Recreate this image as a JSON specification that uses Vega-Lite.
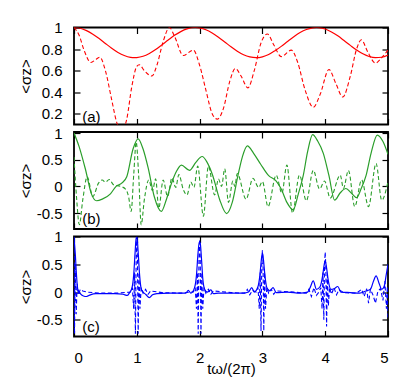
{
"$schema": "https://vega.github.io/schema/vega-lite/v6.json",
"padding": {"left": 17, "top": 19.5, "right": 24, "bottom": 10},
"background": "white",
"spacing": 7.5,
"bounds": "flush",
"config": {
  "view": {"stroke": "black", "strokeWidth": 1.8},
  "axis": {"grid": false, "domain": false, "tickColor": "black", "tickSize": -6, "tickWidth": 1.2,
    "labelFont": "Liberation Sans", "labelFontSize": 15, "labelColor": "black",
    "titleFont": "Liberation Sans", "titleFontSize": 15, "titleFontWeight": "normal", "titleColor": "black"}
},
"datasets": {
  "aS": [{"x":0,"y":1.0},{"x":0.1,"y":0.993},{"x":0.2,"y":0.971},{"x":0.3,"y":0.938},{"x":0.4,"y":0.897},{"x":0.5,"y":0.852},{"x":0.6,"y":0.808},{"x":0.7,"y":0.769},{"x":0.8,"y":0.740},{"x":0.9,"y":0.723},{"x":0.965,"y":0.72},{"x":1.0,"y":0.721},{"x":1.1,"y":0.733},{"x":1.2,"y":0.759},{"x":1.3,"y":0.795},{"x":1.4,"y":0.839},{"x":1.5,"y":0.884},{"x":1.6,"y":0.927},{"x":1.7,"y":0.962},{"x":1.8,"y":0.987},{"x":1.93,"y":1.0},{"x":2.0,"y":0.996},{"x":2.1,"y":0.979},{"x":2.2,"y":0.949},{"x":2.3,"y":0.910},{"x":2.4,"y":0.866},{"x":2.5,"y":0.821},{"x":2.6,"y":0.780},{"x":2.7,"y":0.747},{"x":2.8,"y":0.727},{"x":2.9,"y":0.72},{"x":3.0,"y":0.728},{"x":3.1,"y":0.749},{"x":3.2,"y":0.784},{"x":3.3,"y":0.825},{"x":3.4,"y":0.870},{"x":3.5,"y":0.914},{"x":3.6,"y":0.953},{"x":3.7,"y":0.981},{"x":3.8,"y":0.997},{"x":3.86,"y":1.0},{"x":3.9,"y":0.999},{"x":4.0,"y":0.986},{"x":4.1,"y":0.959},{"x":4.2,"y":0.923},{"x":4.3,"y":0.879},{"x":4.4,"y":0.834},{"x":4.5,"y":0.791},{"x":4.6,"y":0.756},{"x":4.7,"y":0.731},{"x":4.8,"y":0.72},{"x":4.9,"y":0.724},{"x":5.0,"y":0.745}],
  "aD": [{"x":0,"y":1.0},{"x":0.08,"y":0.93},{"x":0.16,"y":0.79},{"x":0.27,"y":0.675},{"x":0.34,"y":0.70},{"x":0.41,"y":0.725},{"x":0.5,"y":0.6},{"x":0.6,"y":0.33},{"x":0.68,"y":0.12},{"x":0.76,"y":0.04},{"x":0.84,"y":0.15},{"x":0.92,"y":0.45},{"x":1.0,"y":0.64},{"x":1.04,"y":0.655},{"x":1.12,"y":0.6},{"x":1.24,"y":0.55},{"x":1.32,"y":0.65},{"x":1.42,"y":0.87},{"x":1.52,"y":1.0},{"x":1.6,"y":0.92},{"x":1.74,"y":0.74},{"x":1.9,"y":0.79},{"x":2.0,"y":0.65},{"x":2.1,"y":0.42},{"x":2.2,"y":0.2},{"x":2.28,"y":0.15},{"x":2.38,"y":0.25},{"x":2.48,"y":0.5},{"x":2.57,"y":0.62},{"x":2.66,"y":0.55},{"x":2.77,"y":0.44},{"x":2.87,"y":0.6},{"x":2.98,"y":0.86},{"x":3.08,"y":0.94},{"x":3.18,"y":0.84},{"x":3.30,"y":0.73},{"x":3.46,"y":0.79},{"x":3.56,"y":0.68},{"x":3.68,"y":0.42},{"x":3.81,"y":0.26},{"x":3.92,"y":0.38},{"x":4.06,"y":0.61},{"x":4.17,"y":0.48},{"x":4.28,"y":0.355},{"x":4.4,"y":0.55},{"x":4.5,"y":0.8},{"x":4.575,"y":0.886},{"x":4.68,"y":0.77},{"x":4.80,"y":0.67},{"x":4.9,"y":0.72},{"x":5.0,"y":0.79}],
  "bS": [{"x":0,"y":1.0},{"x":0.08,"y":0.75},{"x":0.18,"y":0.33},{"x":0.28,"y":-0.15},{"x":0.36,"y":-0.27},{"x":0.45,"y":-0.24},{"x":0.58,"y":-0.14},{"x":0.67,"y":0.0},{"x":0.76,"y":0.06},{"x":0.84,"y":0.18},{"x":0.94,"y":0.7},{"x":1.02,"y":0.89},{"x":1.10,"y":0.7},{"x":1.18,"y":0.35},{"x":1.28,"y":-0.2},{"x":1.39,"y":-0.47},{"x":1.47,"y":-0.25},{"x":1.55,"y":0.05},{"x":1.63,"y":0.28},{"x":1.71,"y":0.40},{"x":1.84,"y":0.30},{"x":1.94,"y":0.45},{"x":2.04,"y":0.56},{"x":2.12,"y":0.45},{"x":2.21,"y":0.2},{"x":2.32,"y":-0.25},{"x":2.43,"y":-0.51},{"x":2.52,"y":-0.3},{"x":2.61,"y":0.2},{"x":2.68,"y":0.55},{"x":2.76,"y":0.76},{"x":2.86,"y":0.62},{"x":2.97,"y":0.42},{"x":3.1,"y":0.2},{"x":3.22,"y":0.1},{"x":3.3,"y":-0.05},{"x":3.39,"y":-0.3},{"x":3.49,"y":-0.44},{"x":3.57,"y":-0.15},{"x":3.65,"y":0.2},{"x":3.72,"y":0.65},{"x":3.80,"y":0.97},{"x":3.88,"y":0.85},{"x":3.97,"y":0.62},{"x":4.06,"y":0.2},{"x":4.15,"y":-0.26},{"x":4.24,"y":-0.12},{"x":4.33,"y":-0.04},{"x":4.42,"y":-0.13},{"x":4.50,"y":-0.21},{"x":4.57,"y":-0.05},{"x":4.65,"y":0.2},{"x":4.73,"y":0.62},{"x":4.83,"y":0.96},{"x":4.92,"y":0.84},{"x":5.0,"y":0.6}],
  "bD": [{"x":0,"y":0.55},{"x":0.04,"y":-0.2},{"x":0.085,"y":-0.72},{"x":0.14,"y":-0.25},{"x":0.21,"y":0.18},{"x":0.30,"y":-0.19},{"x":0.39,"y":0.06},{"x":0.45,"y":0.12},{"x":0.50,"y":0.08},{"x":0.56,"y":0.13},{"x":0.63,"y":0.03},{"x":0.74,"y":0.0},{"x":0.82,"y":-0.05},{"x":0.87,"y":-0.2},{"x":0.91,"y":-0.47},{"x":0.95,"y":0.2},{"x":0.99,"y":0.83},{"x":1.03,"y":0.2},{"x":1.07,"y":-0.72},{"x":1.12,"y":-0.25},{"x":1.19,"y":0.12},{"x":1.25,"y":-0.08},{"x":1.30,"y":0.14},{"x":1.35,"y":-0.41},{"x":1.42,"y":0.12},{"x":1.49,"y":-0.19},{"x":1.56,"y":0.16},{"x":1.62,"y":-0.02},{"x":1.67,"y":0.22},{"x":1.74,"y":-0.06},{"x":1.80,"y":-0.16},{"x":1.86,"y":0.08},{"x":1.91,"y":-0.02},{"x":1.97,"y":0.38},{"x":2.06,"y":-0.56},{"x":2.14,"y":0.38},{"x":2.24,"y":-0.16},{"x":2.30,"y":0.14},{"x":2.35,"y":0.0},{"x":2.40,"y":0.33},{"x":2.46,"y":-0.3},{"x":2.53,"y":0.1},{"x":2.56,"y":0.0},{"x":2.60,"y":0.24},{"x":2.74,"y":-0.24},{"x":2.85,"y":0.15},{"x":2.94,"y":-0.02},{"x":3.0,"y":0.09},{"x":3.09,"y":-0.38},{"x":3.22,"y":0.21},{"x":3.31,"y":-0.13},{"x":3.39,"y":0.40},{"x":3.48,"y":-0.5},{"x":3.59,"y":0.21},{"x":3.70,"y":-0.27},{"x":3.81,"y":0.30},{"x":3.91,"y":-0.05},{"x":3.99,"y":0.1},{"x":4.08,"y":-0.22},{"x":4.24,"y":0.21},{"x":4.29,"y":-0.04},{"x":4.37,"y":0.30},{"x":4.47,"y":-0.38},{"x":4.58,"y":0.12},{"x":4.69,"y":-0.38},{"x":4.81,"y":0.43},{"x":4.90,"y":-0.26},{"x":5.0,"y":0.09}],
  "cS": [{"x":0,"y":0.98},{"x":0.02,"y":0.7},{"x":0.04,"y":0.3},{"x":0.06,"y":0.05},{"x":0.1,"y":-0.03},{"x":0.15,"y":-0.07},{"x":0.2,"y":-0.08},{"x":0.26,"y":-0.05},{"x":0.35,"y":-0.03},{"x":0.5,"y":-0.03},{"x":0.65,"y":-0.03},{"x":0.78,"y":-0.04},{"x":0.85,"y":-0.06},{"x":0.89,"y":0.0},{"x":0.92,"y":0.06},{"x":0.95,"y":0.3},{"x":0.975,"y":0.75},{"x":0.99,"y":0.98},{"x":1.005,"y":0.98},{"x":1.02,"y":0.75},{"x":1.045,"y":0.3},{"x":1.07,"y":0.06},{"x":1.1,"y":0.0},{"x":1.14,"y":-0.04},{"x":1.2,"y":-0.1},{"x":1.25,"y":-0.05},{"x":1.32,"y":-0.03},{"x":1.5,"y":-0.02},{"x":1.7,"y":-0.02},{"x":1.78,"y":-0.02},{"x":1.82,"y":0.03},{"x":1.86,"y":-0.02},{"x":1.92,"y":0.08},{"x":1.95,"y":0.3},{"x":1.975,"y":0.7},{"x":1.995,"y":0.9},{"x":2.01,"y":0.88},{"x":2.03,"y":0.6},{"x":2.05,"y":0.25},{"x":2.08,"y":0.05},{"x":2.12,"y":0.0},{"x":2.18,"y":0.04},{"x":2.22,"y":-0.03},{"x":2.3,"y":-0.02},{"x":2.5,"y":-0.02},{"x":2.7,"y":-0.02},{"x":2.78,"y":0.0},{"x":2.83,"y":0.08},{"x":2.87,"y":0.0},{"x":2.93,"y":0.1},{"x":2.96,"y":0.3},{"x":2.985,"y":0.6},{"x":3.0,"y":0.7},{"x":3.015,"y":0.6},{"x":3.04,"y":0.3},{"x":3.07,"y":0.08},{"x":3.12,"y":0.02},{"x":3.17,"y":0.08},{"x":3.22,"y":-0.01},{"x":3.4,"y":0.0},{"x":3.6,"y":-0.02},{"x":3.72,"y":0.0},{"x":3.76,"y":0.08},{"x":3.81,"y":0.2},{"x":3.86,"y":0.05},{"x":3.92,"y":0.1},{"x":3.96,"y":0.3},{"x":3.985,"y":0.5},{"x":4.0,"y":0.56},{"x":4.02,"y":0.45},{"x":4.05,"y":0.2},{"x":4.09,"y":0.05},{"x":4.14,"y":0.06},{"x":4.2,"y":0.1},{"x":4.25,"y":0.0},{"x":4.4,"y":-0.01},{"x":4.55,"y":-0.02},{"x":4.65,"y":0.02},{"x":4.72,"y":0.05},{"x":4.77,"y":0.2},{"x":4.81,"y":0.29},{"x":4.86,"y":0.15},{"x":4.9,"y":0.05},{"x":4.94,"y":0.1},{"x":4.97,"y":0.3},{"x":5.0,"y":0.5}],
  "cD": [{"x":0,"y":1.0},{"x":0.008,"y":-0.75},{"x":0.02,"y":0.5},{"x":0.035,"y":-0.4},{"x":0.05,"y":0.15},{"x":0.07,"y":-0.05},{"x":0.1,"y":0.05},{"x":0.14,"y":0.02},{"x":0.2,"y":0.0},{"x":0.4,"y":-0.02},{"x":0.7,"y":-0.02},{"x":0.9,"y":0.0},{"x":0.93,"y":0.08},{"x":0.95,"y":-0.3},{"x":0.965,"y":0.35},{"x":0.978,"y":-0.75},{"x":0.99,"y":0.6},{"x":1.0,"y":1.0},{"x":1.01,"y":0.6},{"x":1.022,"y":-0.75},{"x":1.035,"y":0.35},{"x":1.05,"y":-0.3},{"x":1.07,"y":0.08},{"x":1.1,"y":-0.02},{"x":1.14,"y":0.05},{"x":1.18,"y":-0.04},{"x":1.22,"y":0.02},{"x":1.4,"y":-0.01},{"x":1.7,"y":-0.02},{"x":1.85,"y":0.0},{"x":1.9,"y":0.0},{"x":1.93,"y":0.08},{"x":1.95,"y":-0.3},{"x":1.965,"y":0.35},{"x":1.978,"y":-0.75},{"x":1.99,"y":0.6},{"x":2.0,"y":0.95},{"x":2.01,"y":0.6},{"x":2.022,"y":-0.75},{"x":2.035,"y":0.35},{"x":2.05,"y":-0.3},{"x":2.07,"y":0.08},{"x":2.1,"y":-0.02},{"x":2.14,"y":0.05},{"x":2.18,"y":-0.04},{"x":2.22,"y":0.02},{"x":2.5,"y":-0.01},{"x":2.72,"y":-0.02},{"x":2.76,"y":0.05},{"x":2.8,"y":-0.05},{"x":2.84,"y":0.03},{"x":2.9,"y":0.0},{"x":2.93,"y":0.08},{"x":2.95,"y":-0.3},{"x":2.965,"y":0.35},{"x":2.978,"y":-0.7},{"x":2.99,"y":0.5},{"x":3.0,"y":0.75},{"x":3.01,"y":0.5},{"x":3.022,"y":-0.7},{"x":3.035,"y":0.35},{"x":3.05,"y":-0.3},{"x":3.07,"y":0.08},{"x":3.1,"y":-0.02},{"x":3.14,"y":0.05},{"x":3.18,"y":-0.04},{"x":3.22,"y":0.02},{"x":3.5,"y":0.0},{"x":3.7,"y":-0.02},{"x":3.74,"y":0.05},{"x":3.78,"y":-0.08},{"x":3.82,"y":0.08},{"x":3.86,"y":-0.06},{"x":3.9,"y":0.0},{"x":3.93,"y":0.08},{"x":3.95,"y":-0.3},{"x":3.965,"y":0.35},{"x":3.978,"y":-0.5},{"x":3.99,"y":0.5},{"x":4.0,"y":0.72},{"x":4.01,"y":0.45},{"x":4.022,"y":-0.62},{"x":4.035,"y":0.3},{"x":4.05,"y":-0.25},{"x":4.07,"y":0.08},{"x":4.1,"y":-0.04},{"x":4.14,"y":0.08},{"x":4.18,"y":-0.05},{"x":4.22,"y":0.04},{"x":4.3,"y":-0.01},{"x":4.5,"y":-0.02},{"x":4.58,"y":0.05},{"x":4.62,"y":-0.08},{"x":4.66,"y":0.06},{"x":4.69,"y":-0.2},{"x":4.72,"y":0.05},{"x":4.76,"y":-0.05},{"x":4.8,"y":-0.2},{"x":4.84,"y":0.02},{"x":4.88,"y":0.06},{"x":4.92,"y":-0.15},{"x":4.95,"y":0.2},{"x":4.975,"y":-0.3},{"x":4.99,"y":0.1},{"x":5.0,"y":-0.5}]
},
"vconcat": [
 {"width": 314, "height": 97,
  "layer": [
   {"data": {"name": "aS"}, "mark": {"type": "line", "color": "#ff0000", "strokeWidth": 1.2, "interpolate": "monotone", "clip": true},
    "encoding": {
     "x": {"field": "x", "type": "quantitative", "scale": {"domain": [0, 5], "nice": false}, "axis": {"orient": "bottom", "values": [0,1,2,3,4,5], "labels": false, "title": null}},
     "y": {"field": "y", "type": "quantitative", "scale": {"domain": [0.1, 1], "nice": false, "zero": false}, "axis": {"orient": "left", "values": [0.2,0.4,0.6,0.8,1], "labelPadding": 18, "labelExpr": "replace(format(datum.value, '~g'), '\u2212', '-')", "title": "<σz>", "titleX": -48.5, "titleY": 48.5, "titleAngle": -90, "titleAlign": "center", "titleBaseline": "middle"}}
    }},
   {"data": {"name": "aD"}, "mark": {"type": "line", "color": "#ff0000", "strokeWidth": 1.1, "strokeDash": [4, 2.5], "interpolate": "monotone", "clip": true},
    "encoding": {
     "x": {"field": "x", "type": "quantitative", "axis": {"orient": "top", "values": [0,1,2,3,4,5], "labels": false, "title": null}},
     "y": {"field": "y", "type": "quantitative", "axis": {"orient": "right", "values": [0.2,0.4,0.6,0.8,1], "labels": false, "title": null}}
    }},
   {"data": {"values": [{"lx": 0.13, "ly": 0.17, "label": "(a)"}]}, "mark": {"type": "text", "align": "left", "baseline": "middle", "font": "Liberation Sans", "fontSize": 15, "color": "black"},
    "encoding": {
     "x": {"field": "lx", "type": "quantitative", "axis": null},
     "y": {"field": "ly", "type": "quantitative", "axis": null},
     "text": {"field": "label"}
    }}
  ],
  "resolve": {"axis": {"x": "independent", "y": "independent"}}
 },
 {"width": 314, "height": 97,
  "layer": [
   {"data": {"name": "bS"}, "mark": {"type": "line", "color": "#2a9e2a", "strokeWidth": 1.2, "interpolate": "monotone", "clip": true},
    "encoding": {
     "x": {"field": "x", "type": "quantitative", "scale": {"domain": [0, 5], "nice": false}, "axis": {"orient": "bottom", "values": [0,1,2,3,4,5], "labels": false, "title": null}},
     "y": {"field": "y", "type": "quantitative", "scale": {"domain": [-0.8, 1.02], "nice": false, "zero": false}, "axis": {"orient": "left", "values": [-0.5,0,0.5,1], "labelPadding": 18, "labelExpr": "replace(format(datum.value, '~g'), '\u2212', '-')", "title": "<σz>", "titleX": -48.5, "titleY": 48.5, "titleAngle": -90, "titleAlign": "center", "titleBaseline": "middle"}}
    }},
   {"data": {"name": "bD"}, "mark": {"type": "line", "color": "#2a9e2a", "strokeWidth": 1.1, "strokeDash": [4, 2.5], "interpolate": "monotone", "clip": true},
    "encoding": {
     "x": {"field": "x", "type": "quantitative", "axis": {"orient": "top", "values": [0,1,2,3,4,5], "labels": false, "title": null}},
     "y": {"field": "y", "type": "quantitative", "axis": {"orient": "right", "values": [-0.5,0,0.5,1], "labels": false, "title": null}}
    }},
   {"data": {"values": [{"lx": 0.13, "ly": -0.62, "label": "(b)"}]}, "mark": {"type": "text", "align": "left", "baseline": "middle", "font": "Liberation Sans", "fontSize": 15, "color": "black"},
    "encoding": {
     "x": {"field": "lx", "type": "quantitative", "axis": null},
     "y": {"field": "ly", "type": "quantitative", "axis": null},
     "text": {"field": "label"}
    }}
  ],
  "resolve": {"axis": {"x": "independent", "y": "independent"}}
 },
 {"width": 314, "height": 100,
  "layer": [
   {"data": {"name": "cS"}, "mark": {"type": "line", "color": "#0000ff", "strokeWidth": 1.2, "interpolate": "monotone", "clip": true},
    "encoding": {
     "x": {"field": "x", "type": "quantitative", "scale": {"domain": [0, 5], "nice": false}, "axis": {"orient": "bottom", "values": [0,1,2,3,4,5], "labelPadding": 20, "title": "tω/(2π)", "titleY": 32, "titleBaseline": "middle"}},
     "y": {"field": "y", "type": "quantitative", "scale": {"domain": [-0.8, 1], "nice": false, "zero": false}, "axis": {"orient": "left", "values": [-0.5,0,0.5,1], "labelPadding": 18, "labelExpr": "replace(format(datum.value, '~g'), '\u2212', '-')", "title": "<σz>", "titleX": -48.5, "titleY": 50, "titleAngle": -90, "titleAlign": "center", "titleBaseline": "middle"}}
    }},
   {"data": {"name": "cD"}, "mark": {"type": "line", "color": "#0000ff", "strokeWidth": 1.1, "strokeDash": [4, 2.5], "clip": true},
    "encoding": {
     "x": {"field": "x", "type": "quantitative", "axis": {"orient": "top", "values": [0,1,2,3,4,5], "labels": false, "title": null}},
     "y": {"field": "y", "type": "quantitative", "axis": {"orient": "right", "values": [-0.5,0,0.5,1], "labels": false, "title": null}}
    }},
   {"data": {"values": [{"lx": 0.13, "ly": -0.62, "label": "(c)"}]}, "mark": {"type": "text", "align": "left", "baseline": "middle", "font": "Liberation Sans", "fontSize": 15, "color": "black"},
    "encoding": {
     "x": {"field": "lx", "type": "quantitative", "axis": null},
     "y": {"field": "ly", "type": "quantitative", "axis": null},
     "text": {"field": "label"}
    }}
  ],
  "resolve": {"axis": {"x": "independent", "y": "independent"}}
 }
]
}
